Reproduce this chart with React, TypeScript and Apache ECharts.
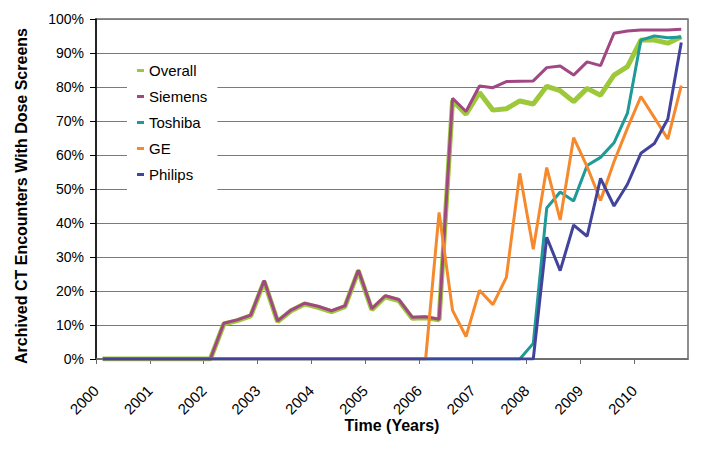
import React, { useEffect, useRef } from "react";
import * as echarts from "echarts";

// Quarterly observations, 2000 Q1 .. 2010 Q4 (44 quarters)
const years = [2000, 2001, 2002, 2003, 2004, 2005, 2006, 2007, 2008, 2009, 2010];
const quarters = [0, 1, 2, 3];

const overall = [
  0, 0, 0, 0, 0, 0, 0, 0,
  0, 10.3, 11.3, 12.7,
  22.8, 11.0, 14.2, 16.2,
  15.2, 13.9, 15.4, 25.9,
  14.5, 18.3, 17.2, 12.0,
  12.1, 11.5, 76.0, 72.0,
  78.4, 73.2, 73.6, 75.9,
  75.0, 80.2, 78.9, 75.7,
  79.6, 77.6, 83.5, 86.0,
  93.8, 93.8, 92.9, 94.8,
];
const siemens = [
  0, 0, 0, 0, 0, 0, 0, 0,
  0, 10.5, 11.5, 12.9,
  23.1, 11.2, 14.4, 16.4,
  15.5, 14.2, 15.6, 26.2,
  14.8, 18.6, 17.5, 12.3,
  12.4, 11.7, 76.7, 72.8,
  80.3, 79.8, 81.6, 81.7,
  81.8, 85.7, 86.2, 83.5,
  87.4, 86.3, 95.8, 96.5,
  96.8, 96.8, 96.8, 97.0,
];
const toshiba = [
  0, 0, 0, 0, 0, 0, 0, 0,
  0, 0, 0, 0, 0, 0, 0, 0,
  0, 0, 0, 0, 0, 0, 0, 0,
  0, 0, 0, 0, 0, 0, 0, 0,
  4.6, 44.4, 49.1, 46.5,
  56.9, 59.3, 63.6, 72.3,
  93.8, 95.0, 94.5, 94.7,
];
const ge = [
  0, 0, 0, 0, 0, 0, 0, 0,
  0, 0, 0, 0, 0, 0, 0, 0,
  0, 0, 0, 0, 0, 0, 0, 0,
  0, 43.1, 14.3, 6.6,
  20.2, 16.0, 24.0, 54.6,
  32.3, 56.3, 40.9, 65.1,
  56.6, 46.6, 58.0, 67.9,
  77.2, 71.0, 64.7, 80.4,
];
const philips = [
  0, 0, 0, 0, 0, 0, 0, 0,
  0, 0, 0, 0, 0, 0, 0, 0,
  0, 0, 0, 0, 0, 0, 0, 0,
  0, 0, 0, 0, 0, 0, 0, 0,
  0, 35.8, 26.0, 39.4,
  36.1, 53.1, 45.0, 51.4,
  60.5, 63.4, 70.6, 93.1,
];

const seriesNames = ["Overall", "Siemens", "Toshiba", "GE", "Philips"];
const seriesValues = [overall, siemens, toshiba, ge, philips];
const seriesColors = ["#9cc83a", "#a04784", "#1e9a98", "#f5892c", "#42449c"];
const seriesWidths = [5, 3, 3, 3, 3];

const xTitle = "Time (Years)";
const yTitle = "Archived CT Encounters With Dose Screens";

// time of each quarter (mid-quarter, in decimal years)
const times: number[] = [];
years.forEach((y) => quarters.forEach((q) => times.push(y + (q + 0.5) / 4)));

const FONT = 'Arial, "Liberation Sans", sans-serif';

export default function App() {
  const ref = useRef<HTMLDivElement>(null);
  useEffect(() => {
    if (!ref.current) return;
    const chart = echarts.init(ref.current, null, { renderer: "svg" });
    chart.setOption({
      animation: false,
      textStyle: { fontFamily: FONT, color: "#000" },
      grid: {
        left: 96,
        right: 15,
        top: 19,
        bottom: 90,
        show: true,
        borderColor: "#6a6a6a",
        borderWidth: 1.5,
      },
      legend: {
        orient: "vertical",
        left: 127,
        top: 55,
        padding: [8, 10, 8, 10],
        backgroundColor: "#ffffff",
        icon: "rect",
        itemWidth: 7,
        itemHeight: 3,
        itemGap: 11,
        textStyle: { fontSize: 15, color: "#000", fontFamily: FONT },
        data: seriesNames,
      },
      graphic: [
        {
          type: "text",
          x: 21,
          y: 196,
          rotation: Math.PI / 2,
          style: {
            text: yTitle,
            font: `bold 16px ${FONT}`,
            fill: "#000",
            textAlign: "center",
            textVerticalAlign: "middle",
          },
        },
      ],
      xAxis: {
        type: "value",
        min: 2000,
        max: 2011,
        interval: 1,
        name: xTitle,
        nameLocation: "middle",
        nameGap: 58,
        nameMoveOverlap: false,
        nameTextStyle: { fontSize: 16, fontWeight: "bold", color: "#000", fontFamily: FONT },
        axisLine: { lineStyle: { color: "#6a6a6a", width: 1.5 } },
        axisTick: { show: true, length: 5, lineStyle: { color: "#6a6a6a" } },
        splitLine: { show: false },
        axisLabel: {
          rotate: 45,
          fontSize: 15,
          color: "#000",
          margin: 29,
          padding: [4, 0, 0, 0],
          showMaxLabel: false,
          formatter: (v: number) => (v > 2010 ? "" : String(v)),
        },
      },
      yAxis: {
        type: "value",
        min: 0,
        max: 100,
        interval: 10,
        axisLine: { show: true, lineStyle: { color: "#000", width: 1.5 } },
        axisTick: { show: true, length: 6, lineStyle: { color: "#000" } },
        splitLine: { show: true, lineStyle: { color: "#7a7a7a", width: 1 } },
        axisLabel: { fontSize: 14, color: "#000", margin: 12, formatter: "{value}%" },
      },
      series: seriesNames.map((name, k) => ({
        name,
        type: "line",
        symbol: "none",
        color: seriesColors[k],
        lineStyle: { color: seriesColors[k], width: seriesWidths[k] },
        itemStyle: { color: seriesColors[k] },
        data: times.map((t, i) => [t, seriesValues[k][i]]),
        z: 2 + k,
      })),
    });
    return () => chart.dispose();
  }, []);
  return (
    <div
      ref={ref}
      style={{ position: "fixed", left: 0, top: 0, width: 703, height: 449, background: "#fff" }}
    />
  );
}
